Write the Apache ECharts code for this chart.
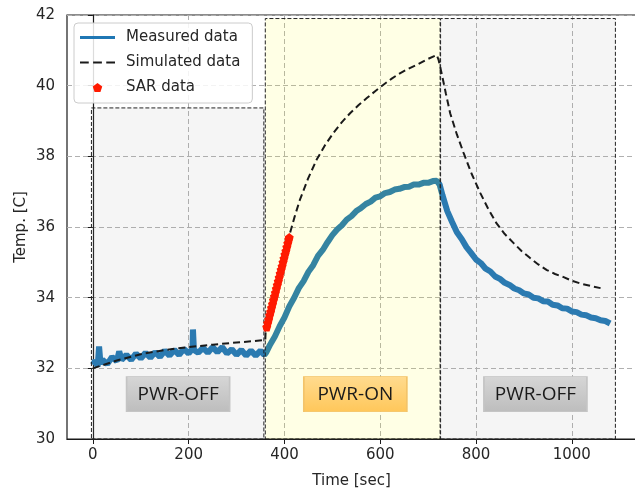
<!DOCTYPE html>
<html><head><meta charset="utf-8">
<script src="https://cdn.jsdelivr.net/npm/echarts@6/dist/echarts.min.js"></script>
<style>html,body{margin:0;padding:0;background:#fff}#c{width:635px;height:488px}</style>
</head><body><div id="c"></div>
<script>
// ---- data ----
const measuredTime = [0,5,10,13,16,20,30,40,50,55,60,70,80,90,100,110,120,130,140,150,160,170,180,190,200,208,209,211,220,230,240,250,260,270,280,290,300,310,320,330,340,350,358,
  362,370,380,390,400,410,420,430,440,450,460,470,480,490,500,510,520,530,540,550,560,570,580,590,600,610,620,630,640,650,660,670,680,690,700,710,718,724,
  730,740,750,760,770,780,790,800,810,820,830,840,850,860,870,880,890,900,910,920,930,940,950,960,970,980,990,1000,1010,1020,1030,1040,1050,1060,1070,1080];
const measuredTemp = [32.10,32.22,32.05,32.62,32.12,32.24,32.12,32.32,32.20,32.48,32.24,32.38,32.24,32.42,32.28,32.44,32.30,32.46,32.32,32.50,32.36,32.52,32.38,32.55,32.42,32.56,33.10,32.52,32.44,32.58,32.44,32.60,32.46,32.60,32.42,32.54,32.38,32.52,32.36,32.50,32.36,32.50,32.38,
  32.45,32.67,32.90,33.19,33.44,33.75,33.99,34.27,34.47,34.73,34.92,35.18,35.35,35.57,35.77,35.93,36.05,36.21,36.31,36.45,36.54,36.65,36.72,36.83,36.87,36.96,36.99,37.06,37.08,37.13,37.14,37.20,37.20,37.25,37.25,37.30,37.31,37.20,
  36.90,36.45,36.14,35.85,35.66,35.43,35.26,35.08,34.98,34.82,34.74,34.60,34.53,34.42,34.36,34.26,34.21,34.12,34.09,34.00,33.98,33.90,33.89,33.80,33.78,33.70,33.69,33.61,33.59,33.52,33.50,33.44,33.42,33.36,33.34,33.27];

const simTime = [0,50,100,150,200,250,300,360,361,373,385,397,410,421,432,449,467,484,502,520,537,555,572,590,606,624,641,659,676,697,718,
  722,728,737,746,760,774,791,809,826,843,860,878,895,913,930,948,965,983,1000,1018,1040,1060];
const simTemp = [32.0,32.22,32.4,32.52,32.6,32.67,32.73,32.8,33.15,33.8,34.45,35.1,35.75,36.28,36.76,37.36,37.9,38.3,38.66,38.97,39.22,39.45,39.65,39.85,40.02,40.2,40.35,40.48,40.59,40.74,40.87,
  40.72,40.36,39.78,39.22,38.62,38.1,37.5,36.96,36.5,36.1,35.8,35.55,35.32,35.12,34.94,34.78,34.67,34.58,34.48,34.4,34.33,34.27];

const sarTime = [363,365,367,369,371,373,375,377,379,381,383,385,387,389,391,393,395,397,399,401,403,405,407,409,410];
const sarTemp = [33.17,33.28,33.38,33.50,33.60,33.71,33.82,33.93,34.03,34.14,34.25,34.36,34.46,34.57,34.68,34.79,34.89,35.00,35.11,35.22,35.32,35.43,35.54,35.65,35.70];

const xTicks = [0,200,400,600,800,1000];
const yTicks = [30,32,34,36,38,40,42];

const regionStart = [-3, 360, 726];
const regionEnd = [357, 725, 1091];
const regionTop = [39.37, 41.9, 41.9];
const regionKind = ['off','on','off'];
const labelText = ['PWR-OFF','PWR-ON','PWR-OFF'];
const labelX = [178, 548, 924];
const labelY = [31.27, 31.27, 31.27];

// ---- build ----
const zip = (a, b) => a.map((v, i) => [v, b[i]]);
const pentagon = 'path://M0,-1 L0.951,-0.309 L0.588,0.809 L-0.588,0.809 L-0.951,-0.309 Z';
const FONT = 'DejaVu Sans';

const areaFill = {off: 'rgba(160,160,160,0.1)', on: 'rgba(255,255,0,0.1)'};
const markAreaData = regionStart.map((s, i) => [
  {coord: [s, 30], itemStyle: {color: areaFill[regionKind[i]], borderColor: '#222', borderWidth: 1, borderType: [4, 2]}},
  {coord: [regionEnd[i], regionTop[i]]}
]);
const grad = (a, b) => ({type: 'linear', x: 0, y: 0, x2: 0, y2: 1, colorStops: [{offset: 0, color: a}, {offset: 1, color: b}]});
const markPointData = labelText.map((t, i) => ({
  coord: [labelX[i], labelY[i]],
  value: t,
  itemStyle: regionKind[i] === 'on'
    ? {color: grad('#ffdb8f', '#ffc75a'), borderColor: '#f3c46a', borderWidth: 1}
    : {color: grad('#d6d6d6', '#bdbdbd'), borderColor: '#c4c4c4', borderWidth: 1}
}));

const chart = echarts.init(document.getElementById('c'), null, {renderer: 'canvas'});
chart.setOption({
  animation: false,
  backgroundColor: '#fff',
  textStyle: {fontFamily: FONT},
  grid: {left: 67, top: 15, right: -1, bottom: 49, outerBoundsMode: 'none', show: true, borderColor: '#1a1a1a', borderWidth: 1.2, backgroundColor: 'transparent'},
  legend: {
    orient: 'vertical', left: 74, top: 23,
    data: [
      {name: 'Measured data', icon: 'path://M0,0H35V3H0Z'},
      {name: 'Simulated data', icon: 'path://M0,0H8V2H0Z M12,0H20V2H12Z M24,0H32V2H24Z'},
      {name: 'SAR data'}
    ],
    itemWidth: 35, itemHeight: 9, itemGap: 10,
    padding: [7, 12, 8, 6],
    backgroundColor: 'rgba(255,255,255,0.85)', borderColor: '#cccccc', borderWidth: 1, borderRadius: 4,
    textStyle: {fontFamily: FONT, fontSize: 15, color: '#262626', lineHeight: 14, padding: [0, 0, 0, 6]}
  },
  xAxis: {
    type: 'value', min: -54, max: 1134,
    name: 'Time [sec]', nameLocation: 'middle', nameGap: 35, nameMoveOverlap: false,
    nameTextStyle: {fontFamily: FONT, fontSize: 15, color: '#262626'},
    axisLine: {show: true, lineStyle: {color: '#1a1a1a', width: 1.2}},
    axisTick: {show: true, inside: false, length: 5, customValues: xTicks, lineStyle: {color: '#1a1a1a'}},
    axisLabel: {customValues: xTicks, formatter: v => String(v), fontFamily: FONT, fontSize: 15, color: '#262626', margin: 9},
    splitLine: {show: true, lineStyle: {color: '#b0b0b0', type: [5, 3], width: 1}}
  },
  yAxis: {
    type: 'value', min: 30, max: 42, interval: 2,
    name: 'Temp. [C]', nameLocation: 'middle', nameGap: 38, nameRotate: 90, nameMoveOverlap: false,
    nameTextStyle: {fontFamily: FONT, fontSize: 15, color: '#262626'},
    axisLine: {show: true, lineStyle: {color: '#1a1a1a', width: 1.2}},
    axisTick: {show: true, inside: false, length: 5, lineStyle: {color: '#1a1a1a'}},
    axisLabel: {fontFamily: FONT, fontSize: 15, color: '#262626', margin: 12, customValues: yTicks},
    splitLine: {show: true, lineStyle: {color: '#b0b0b0', type: [5, 3], width: 1}}
  },
  series: [
    {
      name: 'Measured data', type: 'line', z: 2,
      data: zip(measuredTime, measuredTemp),
      symbol: 'none', showSymbol: false,
      lineStyle: {color: '#1f77b4', width: 6}, itemStyle: {color: '#1f77b4'}
    },
    {
      name: 'regions', type: 'line', z: 3, data: [], silent: true,
      markArea: {silent: true, z: 3, data: markAreaData}
    },
    {
      name: 'Simulated data', type: 'line', z: 4,
      data: zip(simTime, simTemp),
      symbol: 'none', showSymbol: false,
      lineStyle: {color: '#1a1a1a', width: 2, type: [7, 4]}, itemStyle: {color: '#1a1a1a'}
    },
    {
      name: 'SAR data', type: 'scatter', z: 5,
      data: zip(sarTime, sarTemp),
      symbol: pentagon, symbolSize: 9,
      itemStyle: {color: '#ff1a00', opacity: 1}
    },
    {
      name: 'labels', type: 'line', z: 6, data: [], silent: true,
      markPoint: {
        silent: true, z: 6, symbol: 'rect', symbolSize: [103, 35],
        label: {show: true, position: 'inside', formatter: p => p.value, fontFamily: 'Open Sans', fontSize: 19, color: '#1a1a1a'},
        data: markPointData
      }
    }
  ]
});
</script>
</body></html>
